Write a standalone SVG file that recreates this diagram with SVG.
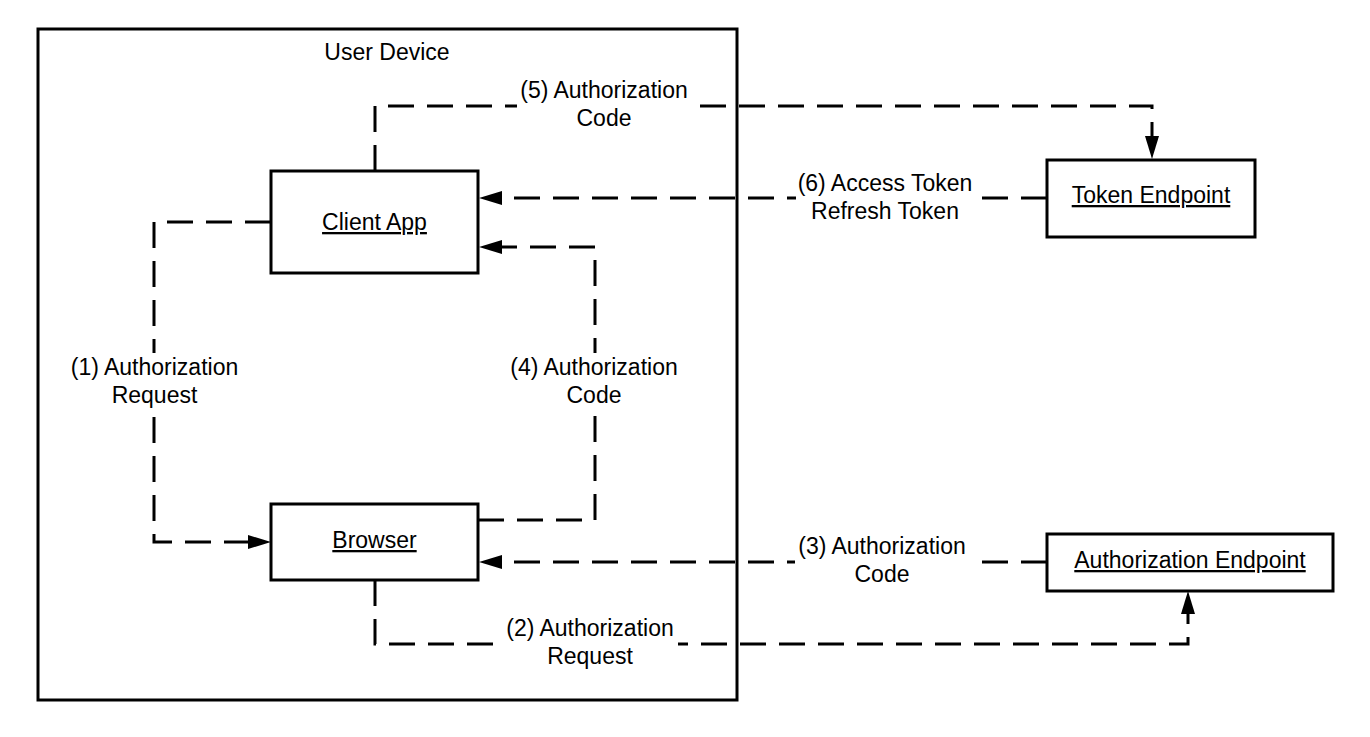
<svg xmlns="http://www.w3.org/2000/svg" width="1370" height="737" viewBox="0 0 1370 737">
<style>
  .box { fill: #ffffff; stroke: #000000; stroke-width: 3; }
  .conn { fill: none; stroke: #000000; stroke-width: 3; stroke-dasharray: 26 13; }
  .t { font-family: "Liberation Sans", Arial, sans-serif; font-size: 23px; fill: #000000; text-anchor: middle; }
  .u { text-decoration: underline; }
  .bg { fill: #ffffff; stroke: none; }
</style>
<defs>
  <marker id="arrow" markerUnits="userSpaceOnUse" markerWidth="24" markerHeight="16" refX="0" refY="7" orient="auto" overflow="visible">
    <path d="M0,0 L23,7 L0,14 Z" fill="#000000"/>
  </marker>
</defs>
<rect width="1370" height="737" fill="#ffffff"/>

<g id="user-device">
  <rect class="box" x="38" y="29" width="699" height="671" fill="none"/>
  <text class="t" x="387" y="60">User Device</text>
</g>

<g id="connectors">
  <g id="c5">
    <path class="conn" d="M375,171 V106 H1152 V136" marker-end="url(#arrow)"/>
    <rect class="bg" x="517" y="76" width="174" height="56"/>
    <text class="t" x="604" y="98">(5) Authorization</text>
    <text class="t" x="604" y="126">Code</text>
  </g>
  <g id="c6">
    <path class="conn" d="M1047,198 H502" marker-end="url(#arrow)"/>
    <rect class="bg" x="796" y="169" width="181" height="56"/>
    <text class="t" x="885" y="191">(6) Access Token</text>
    <text class="t" x="885" y="219">Refresh Token</text>
  </g>
  <g id="c4">
    <path class="conn" d="M478,520 H595 V247 H502" marker-end="url(#arrow)"/>
    <rect class="bg" x="507" y="353" width="174" height="56"/>
    <text class="t" x="594" y="375">(4) Authorization</text>
    <text class="t" x="594" y="403">Code</text>
  </g>
  <g id="c1">
    <path class="conn" d="M271,222 H154 V542 H248" marker-end="url(#arrow)"/>
    <rect class="bg" x="67" y="353" width="175" height="56"/>
    <text class="t" x="154.5" y="375">(1) Authorization</text>
    <text class="t" x="154.5" y="403">Request</text>
  </g>
  <g id="c3">
    <path class="conn" d="M1047,562 H502" marker-end="url(#arrow)"/>
    <rect class="bg" x="795" y="532" width="174" height="56"/>
    <text class="t" x="882" y="554">(3) Authorization</text>
    <text class="t" x="882" y="582">Code</text>
  </g>
  <g id="c2">
    <path class="conn" d="M375,580 V644 H1188 V614" marker-end="url(#arrow)"/>
    <rect class="bg" x="502" y="614" width="176" height="56"/>
    <text class="t" x="590" y="636">(2) Authorization</text>
    <text class="t" x="590" y="664">Request</text>
  </g>
</g>

<g id="client-app">
  <rect class="box" x="271" y="171" width="207" height="102"/>
  <text class="t u" x="374.5" y="230">Client App</text>
</g>
<g id="browser">
  <rect class="box" x="271" y="504" width="207" height="76"/>
  <text class="t u" x="374.5" y="548">Browser</text>
</g>
<g id="token-endpoint">
  <rect class="box" x="1047" y="160" width="208" height="77"/>
  <text class="t u" x="1151" y="203">Token Endpoint</text>
</g>
<g id="authorization-endpoint">
  <rect class="box" x="1047" y="534" width="286" height="57"/>
  <text class="t u" x="1190" y="568">Authorization Endpoint</text>
</g>
</svg>
